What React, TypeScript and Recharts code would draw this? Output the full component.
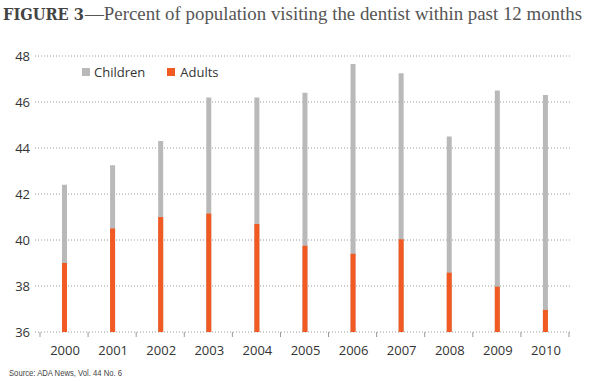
import React from "react";
import { BarChart, Bar, XAxis, YAxis, CartesianGrid } from "recharts";

const years = ["2000", "2001", "2002", "2003", "2004", "2005", "2006", "2007", "2008", "2009", "2010"];
const children = [42.4, 43.25, 44.3, 46.2, 46.2, 46.4, 47.65, 47.25, 44.5, 46.5, 46.3];
const adults = [39.0, 40.5, 41.0, 41.15, 40.7, 39.75, 39.4, 40.03, 38.58, 37.97, 36.96];
const yTicks = [36, 38, 40, 42, 44, 46, 48];
const seriesNames = ["Children", "Adults"];

const data = years.map((y, i) => ({ year: y, Children: children[i], Adults: adults[i] }));

const GRAY = "#b9b9b9";
const ORANGE = "#f15a22";
const TEXT = "#333333";
const FONT = "'Open Sans', sans-serif";

const W = 600;
const H = 381;
const PLOT_LEFT = 35;
const PLOT_RIGHT = 572;
const PAD_L = 5;
const PAD_R = 3;
const BAND = (PLOT_RIGHT - PAD_R - PLOT_LEFT - PAD_L) / years.length;

const XTick = (props: any) => {
  const { x, y, payload, index } = props;
  const last = index === years.length - 1;
  return (
    <g>
      <line x1={x - BAND / 2} x2={x - BAND / 2} y1={y} y2={y + 5} stroke="#999" strokeWidth={1} />
      {last && <line x1={x + BAND / 2} x2={x + BAND / 2} y1={y} y2={y + 5} stroke="#999" strokeWidth={1} />}
      <text x={x + 1} y={y + 23} textAnchor="middle" fill={TEXT} fontSize={13} fontFamily={FONT}>
        {payload.value}
      </text>
    </g>
  );
};

export default function App() {
  return (
    <div style={{ position: "absolute", left: 0, top: 0, width: W, height: H, background: "#fff" }}>
      <svg width={W} height={36} style={{ position: "absolute", left: 0, top: 0 }}>
        <text
          x={3}
          y={20}
          fill="#444"
          fontFamily="'DejaVu Serif Condensed', 'DejaVu Serif', serif"
          fontWeight="bold"
          fontSize={16}
          style={{ fontStretch: "condensed" }}
          textLength={81}
          lengthAdjust="spacingAndGlyphs"
        >
          FIGURE 3
        </text>
        <text x={85} y={20} fontFamily="'Liberation Serif', serif" fontSize={18} fill="#555" textLength={497} lengthAdjust="spacingAndGlyphs">
          —Percent of population visiting the dentist within past 12 months
        </text>
      </svg>
      <div style={{ position: "absolute", left: 0, top: 0 }}>
        <BarChart
          width={W}
          height={H}
          data={data}
          margin={{ top: 56, right: W - PLOT_RIGHT, bottom: 19, left: 0 }}
          barGap={-5}
        >
          <CartesianGrid vertical={false} stroke="#9a9a9a" strokeDasharray="1 2" />
          <XAxis
            dataKey="year"
            axisLine={false}
            tickLine={false}
            tickSize={0}
            tickMargin={0}
            tick={<XTick />}
            padding={{ left: PAD_L, right: PAD_R }}
            interval={0}
            height={30}
          />
          <YAxis
            domain={[36, 48]}
            ticks={yTicks}
            axisLine={false}
            tickLine={false}
            tickSize={0}
            tickMargin={5}
            width={PLOT_LEFT}
            tick={{ fill: TEXT, fontSize: 13, fontFamily: FONT }}
            interval={0}
          />
          <Bar dataKey="Children" fill={GRAY} barSize={5} isAnimationActive={false} />
          <Bar dataKey="Adults" fill={ORANGE} barSize={5} isAnimationActive={false} />
        </BarChart>
      </div>
      <div
        style={{
          position: "absolute",
          left: 82,
          top: 63,
          display: "flex",
          alignItems: "center",
          fontFamily: FONT,
          fontSize: 13,
          color: TEXT,
          lineHeight: "18px",
        }}
      >
        <span style={{ display: "inline-block", width: 8, height: 8, background: GRAY, marginRight: 4 }} />
        <span style={{ marginRight: 22 }}>{seriesNames[0]}</span>
        <span style={{ display: "inline-block", width: 8, height: 8, background: ORANGE, marginRight: 5 }} />
        <span>{seriesNames[1]}</span>
      </div>
      <svg width={W} height={17} style={{ position: "absolute", left: 0, top: 364 }}>
        <text x={9} y={12} fill="#444" fontFamily="'Liberation Sans Narrow', 'Liberation Sans', sans-serif" fontSize={9} textLength={113} lengthAdjust="spacingAndGlyphs">
          Source: ADA News, Vol. 44 No. 6
        </text>
      </svg>
    </div>
  );
}
